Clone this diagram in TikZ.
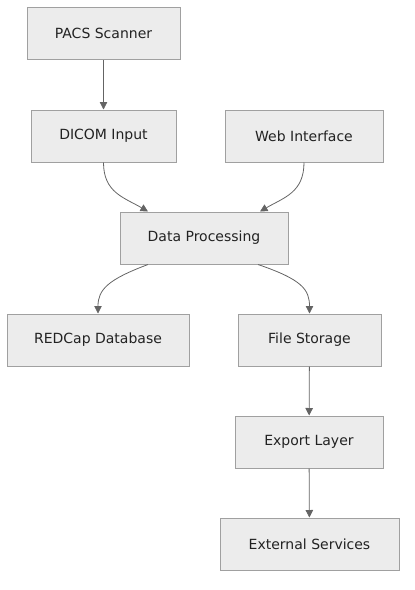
\documentclass[tikz,border=0pt]{standalone}
\usepackage{fontspec}
\setmainfont{DejaVu Sans}
\usepackage{tikz}
\usetikzlibrary{arrows.meta}
\definecolor{fondbloc}{RGB}{236,236,236}
\definecolor{bordbloc}{RGB}{160,160,160}
\definecolor{fleche}{RGB}{100,100,100}
\definecolor{texte}{RGB}{34,34,34}
\newcommand{\hbloc}{52}
\tikzstyle{bloc}=[draw=bordbloc,fill=fondbloc,line width=1pt,minimum height=\hbloc pt,inner sep=0,text=texte,font=\fontsize{14}{16}\selectfont]
\tikzstyle{lien}=[draw=fleche,line width=0.8pt,-{Triangle[length=7.5pt,width=7.5pt]}]

\begin{document}
\begin{tikzpicture}[x=1pt,y=-1pt]
\useasboundingbox (0,0) rectangle (415,590);

%blocs
\node[bloc,minimum width=153pt](pacs) at (103.5,33.5) {PACS Scanner};
\node[bloc,minimum width=145pt](dicom) at (103.5,136) {DICOM Input};
\node[bloc,minimum width=158pt](web) at (304,136) {Web Interface};
\node[bloc,minimum width=168pt](proc) at (204,238) {Data Processing};
\node[bloc,minimum width=182pt](redcap) at (98,340) {REDCap Database};
\node[bloc,minimum width=143pt](files) at (309.5,340) {File Storage};
\node[bloc,minimum width=148pt](export) at (309,442) {Export Layer};
\node[bloc,minimum width=179pt](ext) at (309.5,544) {External Services};

%liens droits
\draw[lien] (pacs) -- (dicom);
\draw[lien] (files) -- (export);
\draw[lien] (export) -- (ext);

%liens courbes
\draw[lien] (dicom.south) .. controls +(0,30) and +(-24,-14) .. ([xshift=-56pt]proc.north);
\draw[lien] (web.south) .. controls +(0,30) and +(24,-14) .. ([xshift=56pt]proc.north);
\draw[lien] ([xshift=-56pt]proc.south) .. controls +(-40,15) and +(0,-24) .. (redcap.north);
\draw[lien] ([xshift=54pt]proc.south) .. controls +(44,15) and +(0,-24) .. (files.north);
\end{tikzpicture}
\end{document}
